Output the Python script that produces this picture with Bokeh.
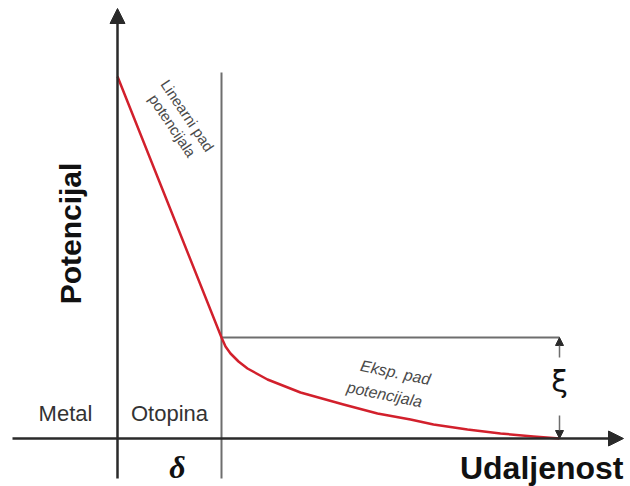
from bokeh.plotting import figure
from bokeh.models import Range1d, Arrow, NormalHead
from bokeh.core.properties import value
from bokeh.embed import file_html
from bokeh.resources import INLINE

# Schematic data (units: distance from metal surface, potential above bulk solution)
delta = 104            # thickness of the compact layer (delta)
phi_metal = 362        # potential at the metal surface
xi = 101               # zeta potential at delta
xi_x = 442             # distance where the diffuse decay reaches the bulk
x_min, x_max = -105, 506
y_min, y_max = -40, 430

linear_x = [0, delta]
linear_y = [phi_metal, xi]
exp_x = [108, 113, 121, 130, 150, 183, 226, 260, 293, 316, 350, 383, 416, xi_x]
exp_y = [92, 85, 77, 70, 59, 46, 34, 25, 19, 14, 9, 5, 2, 0]

region_labels = ["Metal", "Otopina"]
region_x = [-52, 52]
region_y = [25, 25]

p = figure(width=630, height=486, x_range=Range1d(-117, 513), y_range=Range1d(-48, 438),
           output_backend="svg", toolbar_location=None, min_border=0,
           x_axis_location=None, y_axis_location=None, outline_line_color=None,
           background_fill_color="white", border_fill_color="white")
p.grid.grid_line_color = None

axis_col = "#2a2a2a"
guide_col = "#6e6e6e"

# axes with arrowheads
p.add_layout(Arrow(end=NormalHead(size=15, fill_color=axis_col, line_color=axis_col),
                   x_start=0, y_start=y_min, x_end=0, y_end=y_max,
                   line_width=2.5, line_color=axis_col))
p.add_layout(Arrow(end=NormalHead(size=15, fill_color=axis_col, line_color=axis_col),
                   x_start=x_min, y_start=0, x_end=x_max, y_end=0,
                   line_width=2.5, line_color=axis_col))

# delta plane and xi level
p.segment(x0=[delta], y0=[y_min], x1=[delta], y1=[phi_metal + 4], line_color=guide_col, line_width=2)
p.segment(x0=[delta], y0=[xi], x1=[xi_x], y1=[xi], line_color=guide_col, line_width=2)

# xi double arrow (split around the symbol)
p.add_layout(Arrow(end=NormalHead(size=8, fill_color=axis_col, line_color=axis_col),
                   x_start=xi_x, y_start=xi - 20, x_end=xi_x, y_end=xi,
                   line_width=1.5, line_color=guide_col))
p.add_layout(Arrow(end=NormalHead(size=8, fill_color=axis_col, line_color=axis_col),
                   x_start=xi_x, y_start=23, x_end=xi_x, y_end=0,
                   line_width=1.5, line_color=guide_col))

# potential profile
p.line(x=linear_x + exp_x, y=linear_y + exp_y, line_color="#d2202c", line_width=2.5,
       line_join="round")

# texts
p.text(x=region_x, y=region_y, text=region_labels, text_align="center", text_baseline="middle",
       text_font=value("Liberation Sans"), text_font_size="22px", text_color="#333333")

p.text(x=[-47], y=[205], text=["Potencijal"], angle=1.5708, text_align="center",
       text_baseline="middle", text_font=value("Liberation Sans"), text_font_size="30px",
       text_font_style="bold", text_color="#111111")
p.text(x=[506], y=[-29], text=["Udaljenost"], text_align="right", text_baseline="middle",
       text_font=value("Liberation Sans"), text_font_size="32px", text_font_style="bold",
       text_color="#111111")

p.text(x=[60], y=[-28], text=["δ"], text_align="center", text_baseline="middle",
       text_font=value("Liberation Serif"), text_font_size="32px", text_font_style="bold italic",
       text_color="#111111")
p.text(x=[xi_x], y=[57], text=["ξ"], text_align="center", text_baseline="middle",
       text_font=value("DejaVu Sans"), text_font_size="30px", text_color="#111111")

p.text(x=[70, 55], y=[323, 313], text=["Linearni pad", "potencijala"], angle=-0.98,
       text_align="center", text_baseline="middle", text_font=value("Liberation Sans"),
       text_font_size="15px", text_color="#4a4a4a")
p.text(x=[278, 267], y=[66, 44], text=["Eksp. pad", "potencijala"], angle=-0.2,
       text_align="center", text_baseline="middle", text_font=value("Liberation Sans"),
       text_font_size="16px", text_font_style="italic", text_color="#4a4a4a")

open("out.html", "w").write(file_html(p, INLINE))
